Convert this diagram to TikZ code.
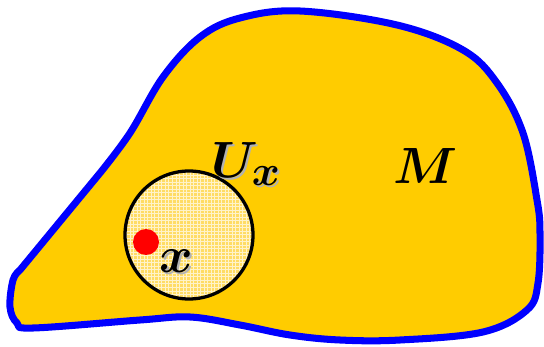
\documentclass[tikz,border=0pt]{standalone}
\usetikzlibrary{patterns}
\usepackage{amsmath}
\usepackage{bm}
\definecolor{mfill}{RGB}{255,204,0}
\definecolor{mline}{RGB}{0,0,255}
\definecolor{ufill}{RGB}{255,220,100}

\begin{document}
\begin{tikzpicture}[x=0.03cm, y=-0.03cm,
    lbl/.style={inner sep=0pt, font=\Huge, scale=1.75},
    shd/.style={lbl, text=black!30}]
  \useasboundingbox (0,0) rectangle (544,347);
  % the manifold
  \draw[mline, line width=6pt, fill=mfill, line join=round]
    plot[smooth, tension=0.6] coordinates {(100,173) (130,133) (163,77) (200,37)
      (240,18) (300,11) (397,25) (463,50) (497,83) (523,133) (537,200)
      (540,233) (538,283) (527,310) (483,332) (400,340) (340,340) (290,335)
      (240,325) (190,317) (140,320) (33,328) (17,323) (10,307) (13,280) (20,270)}
    -- cycle;
  % neighbourhood and point
  \node[circle, draw, line width=2.8pt, minimum size=3.84cm, inner sep=0pt,
    preaction={fill=ufill}, pattern=grid, pattern color=ufill!35!white] (U) at (189,235) {};
  \node[circle, fill=red, minimum size=0.78cm, inner sep=0pt] (p) at (146,242) {};
  \node[shd] (us) at (248,166) {$\bm{U_x}$};
  \node[lbl] (ux) at (246,164) {$\bm{U_x}$};
  \node[shd] (xs) at (178,263) {$\bm{x}$};
  \node[lbl] (xl) at (176,261) {$\bm{x}$};
  \node[lbl] (m) at (426,166) {$\bm{M}$};
\end{tikzpicture}
\end{document}
